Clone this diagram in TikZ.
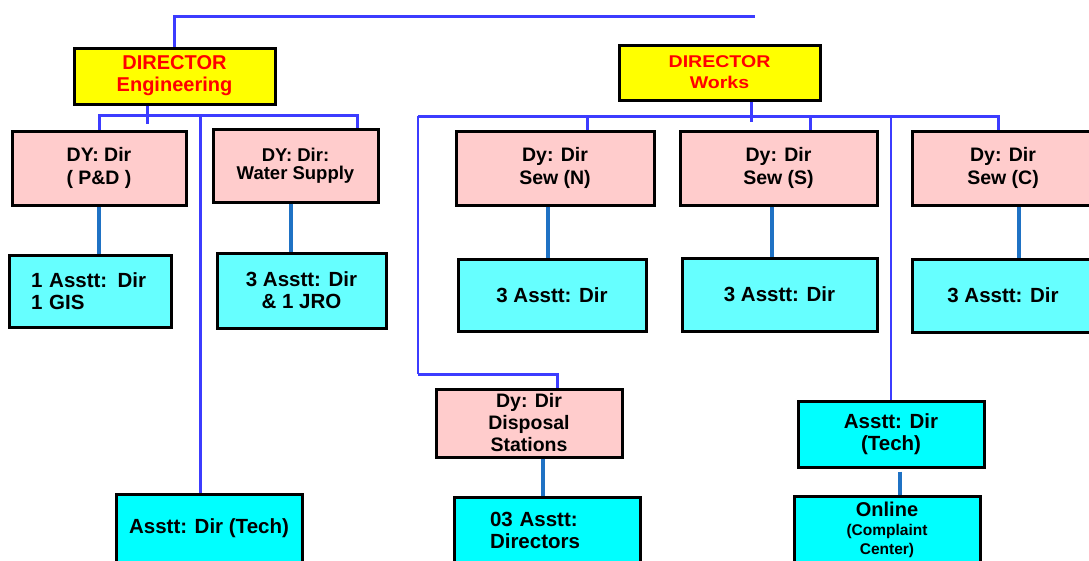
\documentclass[tikz,border=0pt]{standalone}
\usepackage{fontspec}
\setmainfont{Liberation Sans}
\newfontfamily\widebold[FakeStretch=1.15]{Liberation Sans}
\usetikzlibrary{calc}
\definecolor{diryellow}{HTML}{FFFF00}
\definecolor{dirred}{HTML}{FF0000}
\definecolor{dypink}{HTML}{FFCCCC}
\definecolor{asstlight}{HTML}{66FFFF}
\definecolor{asstcyan}{HTML}{00FFFF}
\definecolor{busblue}{HTML}{3C3CFF}
\definecolor{stemblue}{HTML}{1F72C4}
\tikzset{
  box/.style={draw=black, line width=3pt, rectangle, inner sep=0pt, align=center,
    font=\bfseries\fontsize{19.5}{23}\selectfont},
  dirbox/.style={box, fill=diryellow, text=dirred, minimum width=201, font=\bfseries\fontsize{20}{22}\selectfont},
  dybox/.style={box, fill=dypink},
  asstbox/.style={box, fill=asstlight, font=\bfseries\fontsize{20.5}{22}\selectfont},
  techbox/.style={box, fill=asstcyan, font=\bfseries\fontsize{20.5}{22}\selectfont},
  bus/.style={draw=busblue, line width=3pt},
  thinbus/.style={draw=busblue, line width=1.5pt},
  stem/.style={draw=stemblue, line width=3.5pt},
}
\begin{document}
\begin{tikzpicture}[x=1pt, y=-1pt]
\useasboundingbox (0,0) rectangle (1089,560);

% directors
\node[dirbox, minimum height=56] (engdir) at (174.5,76) {DIRECTOR\\Engineering};
\node[dirbox, minimum height=55, font=\widebold\bfseries\fontsize{17}{21}\selectfont] (workdir) at (719.5,72.5) {DIRECTOR\\Works};

% engineering wing
\node[dybox, minimum width=174, minimum height=74] (pd) at (99,168) {DY: Dir\\( P\&D )};
\node[dybox, minimum width=165, minimum height=73, font=\bfseries\fontsize{18.5}{17.5}\selectfont] (ws) at (295.5,165.5) {DY: Dir:\\Water Supply};
\node[asstbox, minimum width=162, minimum height=72, text width=118, align=left] (gis) at (90,291) {1 Asstt: Dir\\1 GIS};
\node[asstbox, minimum width=169, minimum height=75] (jro) at (301.5,290.5) {3 Asstt: Dir\\\& 1 JRO};
\node[techbox, minimum width=186, minimum height=68] (techL) at (209,528) {Asstt: Dir (Tech)};

% works wing
\node[dybox, minimum width=198, minimum height=74] (snN) at (555,168) {Dy: Dir\\Sew (N)};
\node[dybox, minimum width=197, minimum height=74] (snS) at (778.5,168) {Dy: Dir\\Sew (S)};
\node[dybox, minimum width=182, minimum height=74] (snC) at (1003,168) {Dy: Dir\\Sew (C)};
\node[asstbox, minimum width=188, minimum height=72] (a3N) at (552,295) {3 Asstt: Dir};
\node[asstbox, minimum width=195, minimum height=73] (a3S) at (779.5,294.5) {3 Asstt: Dir};
\node[asstbox, minimum width=182, minimum height=73] (a3C) at (1003,295.5) {3 Asstt: Dir};
\node[dybox, minimum width=186, minimum height=68, font=\bfseries\fontsize{19.5}{22}\selectfont] (disp) at (529,423) {Dy: Dir\\Disposal\\Stations};
\node[techbox, minimum width=186, minimum height=66, text width=114, align=left] (d03) at (547,530) {03 Asstt:\\Directors};
\node[techbox, minimum width=186, minimum height=66] (techR) at (891,434) {Asstt: Dir\\(Tech)};
\node[techbox, minimum width=186, minimum height=67, font=\bfseries\fontsize{15.5}{19}\selectfont] (online) at (887,529.5) {{\fontsize{20}{21}\selectfont Online}\\(Complaint\\Center)};

% top bus
\coordinate (topR) at (755,16);
\draw[bus] (engdir.north) |- (topR);

% engineering bus
\coordinate (eb) at ($(engdir.south)+(-27.5,0)$);
\draw[bus] (eb) -- ++(0,18);
\coordinate (dpd) at (pd.north);
\coordinate (dws) at ($(ws.north)+(61.5,0)$);
\draw[bus] (dpd) -- ++(0,-14) -| (dws);
\coordinate (dtl) at ($(techL.north)+(-9,0)$);
\draw[bus] (dtl) -- (dtl |- 0,117);

% engineering stems
\draw[stem] (pd.south) -- (pd.south |- gis.north);
\draw[stem] ($(ws.south)+(-4.5,0)$) -- ($(ws.south |- jro.north)+(-4.5,0)$);

% works bus
\coordinate (wb) at ($(workdir.south)+(31.5,0)$);
\draw[bus] (wb) -- ++(0,20);
\coordinate (wbus) at (418,116);
\coordinate (dN) at ($(snN.north)+(32,0)$);
\coordinate (dS) at ($(snS.north)+(31.5,0)$);
\coordinate (dC) at ($(snC.north)+(-5,0)$);
\draw[bus] (wbus) -- (wbus -| dC) -- (dC);
\draw[bus] (dN) -- (dN |- wbus);
\draw[bus] (dS) -- (dS |- wbus);

% disposal branch and technical branch
\coordinate (dD) at ($(disp.north)+(28,0)$);
\coordinate (dturn) at (418,374);
\draw[thinbus] (wbus) -- (dturn);
\draw[bus] (dturn) -| (dD);
\draw[thinbus] (techR.north) -- (techR.north |- wbus);

% works stems
\draw[stem] ($(snN.south)+(-7,0)$) -- ($(snN.south |- a3N.north)+(-7,0)$);
\draw[stem] ($(snS.south)+(-6.5,0)$) -- ($(snS.south |- a3S.north)+(-6.5,0)$);
\draw[stem] ($(snC.south)+(16,0)$) -- ($(snC.south |- a3C.north)+(16,0)$);
\draw[stem] ($(disp.south)+(14,0)$) -- ($(disp.south |- d03.north)+(14,0)$);
\draw[stem] ($(techR.south)+(9,3)$) -- ($(techR.south |- online.north)+(9,0)$);
\end{tikzpicture}
\end{document}
